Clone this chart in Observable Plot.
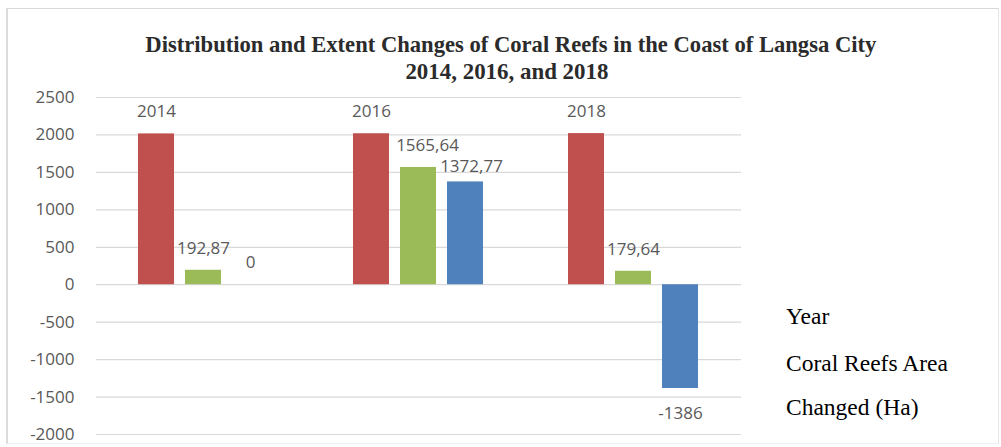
<!DOCTYPE html>
<html>
<head>
<meta charset="utf-8">
<script src="https://cdn.jsdelivr.net/npm/d3@7"></script>
<script src="https://cdn.jsdelivr.net/npm/@observablehq/plot@0.6"></script>
<style>
  html, body { margin: 0; padding: 0; background: #fff; }
  #wrap { position: relative; width: 1001px; height: 447px; overflow: hidden; background: #fff; }
  #frame { position: absolute; left: 6px; top: 8px; width: 993px; height: 436px; border: 1px solid #d9d9d9; box-sizing: border-box; border-left: 2px solid #dcdcdc; border-right-color: #e6e6e6; border-bottom-color: #eeeeee; }
  #chart { position: absolute; left: 0; top: 0; }
  .tline { position: absolute; white-space: nowrap; font-family: "Liberation Serif", "Times New Roman", serif; font-weight: bold; font-size: 23px; line-height: 26px; color: #2b2b2b; transform-origin: center center; }
  .leg { position: absolute; left: 786px; white-space: nowrap; font-family: "Liberation Serif", "Times New Roman", serif; font-size: 23.5px; line-height: 30px; color: #000; }
</style>
</head>
<body>
<div id="wrap">
  <div id="frame"></div>
  <div id="chart"></div>
</div>
<script>
// ---- data ----
const years = ["2014", "2016", "2018"];
const series = ["Year", "Coral Reefs Area", "Changed (Ha)"];
const yearValues = [2014, 2016, 2018];
const areaValues = [192.87, 1565.64, 179.64];
const changeValues = [0, 1372.77, -1386];
const yTicks = [2500, 2000, 1500, 1000, 500, 0, -500, -1000, -1500, -2000];
const seriesColors = ["#C0504D", "#9BBB59", "#4F81BD"];
const titleLines = ["Distribution and Extent Changes of Coral Reefs  in the Coast of Langsa City", "2014, 2016, and 2018"];

const data = years.flatMap((yr, i) => [
  {year: yr, series: series[0], value: yearValues[i]},
  {year: yr, series: series[1], value: areaValues[i]},
  {year: yr, series: series[2], value: changeValues[i]}
]);
const fmt = v => String(v).replace(".", ",");

// labels: Excel nudged the two crowded 2016 labels apart
const crowdedGreen = d => d.year === years[1] && d.series === series[1];
const crowdedBlue = d => d.year === years[1] && d.series === series[2];
const regular = d => d.value >= 0 && !crowdedGreen(d) && !crowdedBlue(d);

const textOpts = {fx: "year", x: "series", y: "value", text: d => fmt(d.value), fill: "#595959", lineAnchor: "middle"};

const chart = Plot.plot({
  width: 1001,
  height: 447,
  marginTop: 97,
  marginBottom: 13,
  marginLeft: 95,
  marginRight: 259,
  style: {fontFamily: "'Open Sans', sans-serif", fontSize: "17px", color: "#595959", background: "transparent"},
  fx: {domain: years, padding: 0, axis: null},
  x: {domain: series, paddingInner: 0.23, paddingOuter: 0.86, axis: null},
  y: {domain: [-2000, 2500], ticks: yTicks, tickSize: 0, tickPadding: 22, label: null, tickFormat: d => String(d)},
  color: {domain: series, range: seriesColors},
  marks: [
    Plot.ruleY(yTicks, {stroke: "#d9d9d9", strokeWidth: 1.2}),
    Plot.barY(data, {fx: "year", x: "series", y: "value", fill: "series"}),
    Plot.text(data.filter(regular), {...textOpts, dy: -22}),
    Plot.text(data.filter(crowdedGreen), {...textOpts, dy: -22, dx: 9}),
    Plot.text(data.filter(crowdedBlue), {...textOpts, dy: -15, dx: 6}),
    Plot.text(data.filter(d => d.value < 0), {...textOpts, dy: 25})
  ]
});
document.getElementById("chart").appendChild(chart);

// ---- title (HTML, above the plot area) ----
const wrap = document.getElementById("wrap");
const titleSpec = [{cx: 510.5, cy: 45, w: 731}, {cx: 506.5, cy: 72, w: 203}];
titleLines.forEach((t, i) => {
  const el = document.createElement("div");
  el.className = "tline";
  el.textContent = t;
  wrap.appendChild(el);
  const w = el.getBoundingClientRect().width;
  const s = titleSpec[i].w / w;
  el.style.left = (titleSpec[i].cx - w / 2) + "px";
  el.style.top = (titleSpec[i].cy - 13) + "px";
  el.style.transform = `scaleX(${s})`;
});

// ---- legend-like labels on the right ----
const legY = [316, 363, 407];
series.forEach((s, i) => {
  const el = document.createElement("div");
  el.className = "leg";
  el.textContent = s;
  el.style.top = (legY[i] - 15) + "px";
  wrap.appendChild(el);
});
</script>
</body>
</html>
